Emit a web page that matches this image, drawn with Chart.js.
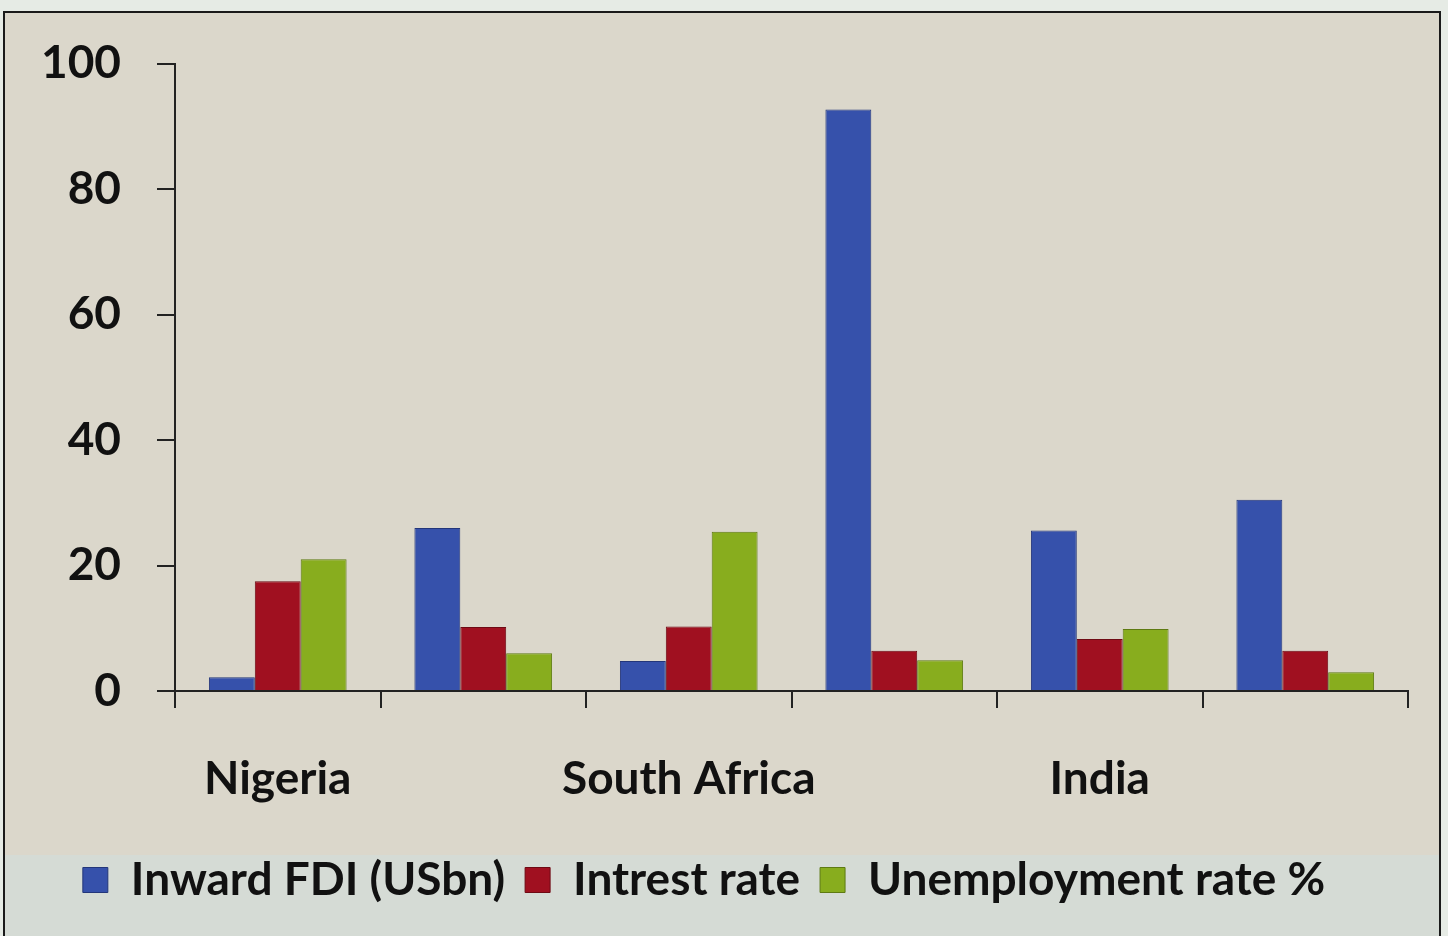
<!DOCTYPE html>
<html>
<head>
<meta charset="utf-8">
<script src="https://cdn.jsdelivr.net/npm/chart.js@4"></script>
<style>
    html, body { margin: 0; padding: 0; background: #e6ebe5; }
    #wrap { width: 1448px; height: 936px; }
</style>
</head>
<body>
<div id="wrap"><canvas id="grafico" width="1448" height="936"></canvas></div>
<script>
// categorias (só uma em cada duas recebe rótulo no eixo)
const categorias = ['Nigeria', '', 'South Africa', '', 'India', ''];
const investimento = [2.2, 26, 4.8, 92.7, 25.6, 30.5];
const juros = [17.5, 10.2, 10.3, 6.4, 8.3, 6.4];
const desemprego = [21, 6, 25.4, 4.9, 9.9, 3];
const ticksY = [0, 20, 40, 60, 80, 100];

const fonte = { family: 'Lato', size: 46, weight: 'bold' };

// fundo do slide: moldura, área bege e faixa clara da legenda
const fundo = {
    id: 'fundo',
    beforeDraw(chart) {
        const ctx = chart.ctx;
        ctx.save();
        ctx.fillStyle = '#e6ebe5';
        ctx.fillRect(0, 0, chart.width, chart.height);
        ctx.fillStyle = '#dbd7cb';
        ctx.fillRect(4, 12, 1436, 924);
        ctx.fillStyle = '#d5dbd5';
        ctx.fillRect(4, 855, 1436, 81);
        ctx.strokeStyle = '#1a1a1a';
        ctx.lineWidth = 2;
        ctx.beginPath();
        ctx.moveTo(4, 936);
        ctx.lineTo(4, 12);
        ctx.lineTo(1440, 12);
        ctx.lineTo(1440, 936);
        ctx.stroke();
        ctx.restore();
    }
};

const ctx = document.getElementById('grafico').getContext('2d');
new Chart(ctx, {
    type: 'bar',
    data: {
        labels: categorias,
        datasets: [
            { label: 'Inward FDI (USbn)', data: investimento, backgroundColor: '#3651ab', borderColor: '#23367a', borderWidth: 1 },
            { label: 'Intrest rate', data: juros, backgroundColor: '#a01020', borderColor: '#6e0a14', borderWidth: 1 },
            { label: 'Unemployment rate %', data: desemprego, backgroundColor: '#88ad1e', borderColor: '#5e7a12', borderWidth: 1 }
        ]
    },
    plugins: [fundo],
    options: {
        responsive: false,
        animation: false,
        layout: { padding: { top: 62, right: 40, bottom: 23, left: 0 } },
        datasets: { bar: { categoryPercentage: 0.67, barPercentage: 1.0 } },
        scales: {
            x: {
                offset: true,
                grid: { offset: true, drawOnChartArea: false, drawTicks: true, tickLength: 17, color: '#222', lineWidth: 2 },
                border: { display: true, color: '#222', width: 2 },
                ticks: { color: '#111', padding: 44, autoSkip: false, maxRotation: 0, font: fonte },
                afterFit(scale) { scale.height = 146; }
            },
            y: {
                min: 0,
                max: 100,
                afterBuildTicks(scale) { scale.ticks = ticksY.map(v => ({ value: v })); },
                grid: { drawOnChartArea: false, drawTicks: true, tickLength: 18, color: '#222', lineWidth: 2 },
                border: { display: true, color: '#222', width: 2 },
                ticks: { color: '#111', padding: 36, font: fonte },
                afterFit(scale) { scale.width = 175; }
            }
        },
        plugins: {
            legend: {
                position: 'bottom',
                labels: {
                    color: '#111',
                    boxWidth: 25,
                    boxHeight: 25,
                    padding: 20,
                    font: fonte
                }
            },
            tooltip: { enabled: false }
        }
    }
});
</script>
</body>
</html>
